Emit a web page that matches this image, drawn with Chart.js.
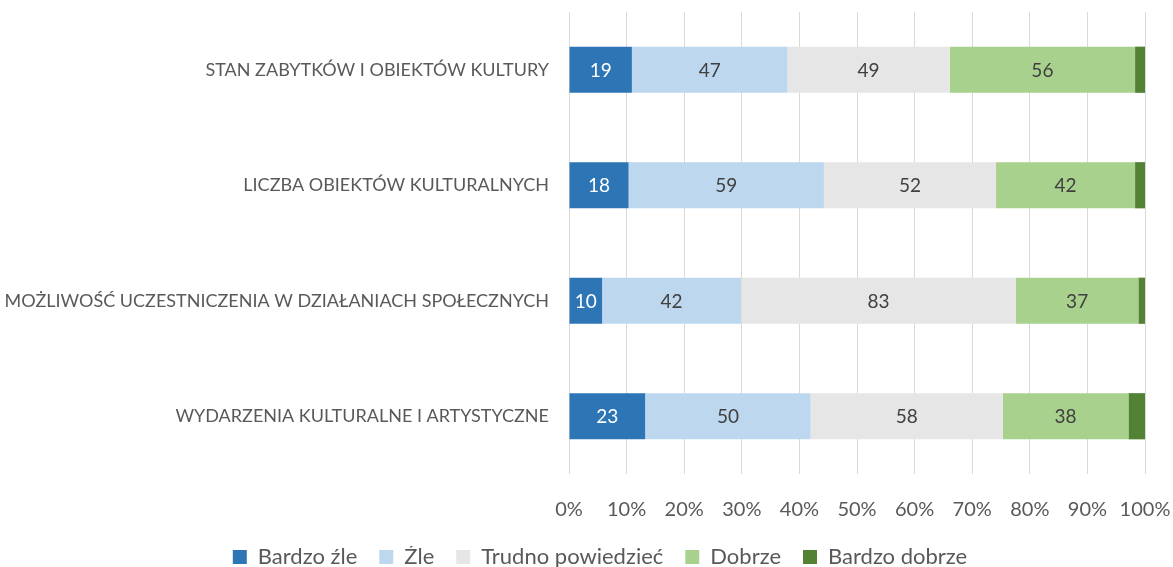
<!DOCTYPE html>
<html>
<head>
<meta charset="utf-8">
<script src="https://cdn.jsdelivr.net/npm/chart.js@4.4.1/dist/chart.umd.min.js"></script>
<style>
html,body{margin:0;padding:0;background:#fff;}
#wrap{width:1173px;height:567px;position:relative;}
</style>
</head>
<body>
<div id="wrap"><canvas id="c" width="1173" height="567"></canvas></div>
<script>
const categories = [
  'STAN ZABYTKÓW I OBIEKTÓW KULTURY',
  'LICZBA OBIEKTÓW KULTURALNYCH',
  'MOŻLIWOŚĆ UCZESTNICZENIA W DZIAŁANIACH SPOŁECZNYCH',
  'WYDARZENIA KULTURALNE I ARTYSTYCZNE'
];
const seriesNames = ['Bardzo źle', 'Źle', 'Trudno powiedzieć', 'Dobrze', 'Bardzo dobrze'];
const bardzoZle   = [19, 18, 10, 23];
const zle         = [47, 59, 42, 50];
const trudno      = [49, 52, 83, 58];
const dobrze      = [56, 42, 37, 38];
const bardzoDobrze= [3, 3, 2, 5];
const tickLabels = ['0%','10%','20%','30%','40%','50%','60%','70%','80%','90%','100%'];
const colors = ['#2e75b6', '#bdd7ee', '#e7e6e6', '#a9d18e', '#548235'];
const labelColors = ['#ffffff', '#404040', '#404040', '#404040', null];

const raw = [bardzoZle, zle, trudno, dobrze, bardzoDobrze];
const totals = categories.map((_, i) => raw.reduce((s, a) => s + a[i], 0));

const FONT = 'Lato, "Open Sans", sans-serif';

const labelPlugin = {
  id: 'segLabels',
  afterLayout(chart) {
    if (chart.legend) { chart.legend.left += 27; }
  },
  afterDatasetsDraw(chart) {
    const ctx = chart.ctx;
    ctx.save();
    ctx.font = '19px ' + FONT;
    ctx.textAlign = 'center';
    ctx.textBaseline = 'middle';
    chart.data.datasets.forEach((ds, di) => {
      if (!labelColors[di]) return;
      const meta = chart.getDatasetMeta(di);
      meta.data.forEach((el, i) => {
        const p = el.getCenterPoint();
        ctx.fillStyle = labelColors[di];
        ctx.fillText(String(raw[di][i]), p.x, p.y + 1);
      });
    });
    ctx.restore();
  }
};

function zeroPad(s) { s.paddingLeft = 0; s.paddingRight = 0; s.paddingTop = 0; s.paddingBottom = 0; }

new Chart(document.getElementById('c'), {
  type: 'bar',
  data: {
    labels: categories,
    datasets: seriesNames.map((n, di) => ({
      label: n,
      data: raw[di].map((v, i) => v / totals[i] * 100),
      backgroundColor: colors[di],
      borderWidth: 0,
      barPercentage: 0.8,
      categoryPercentage: 0.5
    }))
  },
  options: {
    indexAxis: 'y',
    responsive: false,
    animation: false,
    layout: { padding: { top: 12, right: 0, bottom: -11, left: 0 } },
    scales: {
      x: {
        stacked: true,
        min: 0, max: 100,
        grid: { color: '#d9d9d9', lineWidth: 1, drawTicks: false },
        border: { display: false },
        afterFit: (s) => { zeroPad(s); s.paddingRight = 28; },
        ticks: {
          stepSize: 10,
          padding: 24,
          maxRotation: 0,
          color: '#595959',
          font: { family: FONT, size: 20 },
          callback: (v, i) => tickLabels[i]
        }
      },
      y: {
        stacked: true,
        grid: { display: false },
        border: { display: false },
        afterFit: (s) => { s.width = 569; zeroPad(s); },
        ticks: {
          padding: 12,
          color: '#595959',
          font: { family: FONT, size: 18 }
        }
      }
    },
    plugins: {
      legend: {
        position: 'bottom',
        labels: {
          boxWidth: 14, boxHeight: 14,
          color: '#595959',
          font: { family: FONT, size: 22 },
          padding: 0,
          generateLabels(chart) {
            const items = Chart.defaults.plugins.legend.labels.generateLabels(chart);
            items.forEach((it, i) => { if (i < items.length - 1) it.text = it.text + '\u2003\u2005'; it.lineWidth = 0; });
            return items;
          }
        }
      },
      tooltip: { enabled: false }
    }
  },
  plugins: [labelPlugin]
});
</script>
</body>
</html>
